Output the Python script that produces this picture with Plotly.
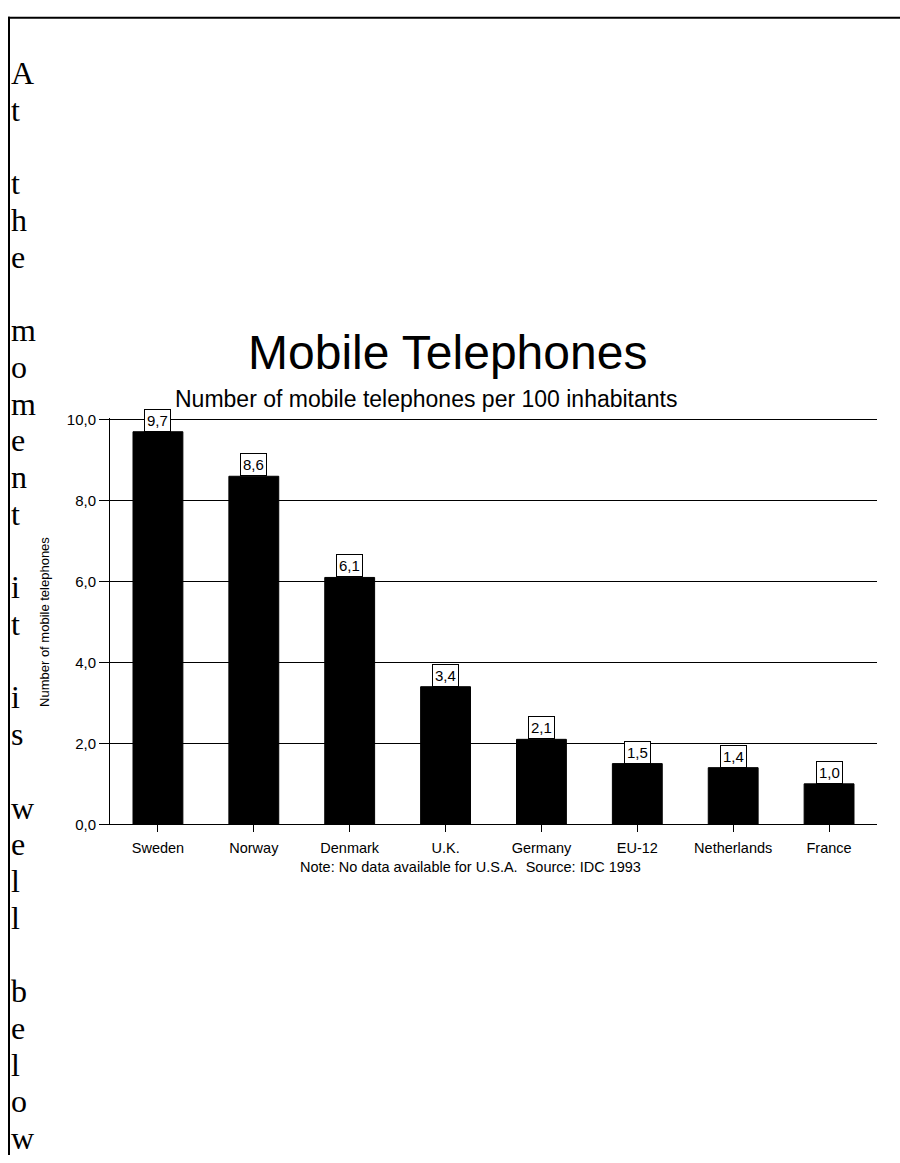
import plotly.graph_objects as go

# ---- data ----
countries = ["Sweden", "Norway", "Denmark", "U.K.", "Germany", "EU-12", "Netherlands", "France"]
phones_per_100 = [9.7, 8.6, 6.1, 3.4, 2.1, 1.5, 1.4, 1.0]
y_tick_values = [0, 2, 4, 6, 8, 10]

chart_title = "Mobile Telephones"
chart_subtitle = "Number of mobile telephones per 100 inhabitants"
y_axis_title = "Number of mobile telephones"
note_text = "Note: No data available for U.S.A.&nbsp;&nbsp;Source: IDC 1993"
side_text = "At the moment it is well below"

# ---- page geometry ----
W, H = 900, 1163
SANS = "Liberation Sans, Arial, sans-serif"
SERIF = "Liberation Serif, Times New Roman, serif"


def px_x(px):
    return px / W


def px_y(px):
    return (H - px) / H


fig = go.Figure(
    go.Bar(
        x=countries,
        y=phones_per_100,
        width=0.52,
        marker=dict(color="black", line=dict(color="black", width=1)),
        hoverinfo="skip",
    )
)

annotations = []

# value boxes above bars
for c, v in zip(countries, phones_per_100):
    annotations.append(
        dict(
            x=c, y=v, xref="x", yref="y",
            text=f"{v:.1f}".replace(".", ","),
            showarrow=False, yanchor="bottom", xanchor="center",
            bgcolor="white", bordercolor="black", borderwidth=1, borderpad=2,
            font=dict(family=SANS, size=15, color="black"),
        )
    )

# titles and notes
annotations.append(dict(x=px_x(447), y=px_y(350), xref="paper", yref="paper",
                        text=chart_title, showarrow=False, xanchor="center", yanchor="middle",
                        font=dict(family=SANS, size=48, color="black")))
annotations.append(dict(x=px_x(426), y=px_y(397), xref="paper", yref="paper",
                        text=chart_subtitle, showarrow=False, xanchor="center", yanchor="middle",
                        font=dict(family=SANS, size=23, color="black")))
annotations.append(dict(x=px_x(45), y=px_y(623), xref="paper", yref="paper",
                        text=y_axis_title, showarrow=False, textangle=-90,
                        xanchor="center", yanchor="middle",
                        font=dict(family=SANS, size=13, color="black")))
annotations.append(dict(x=px_x(470), y=px_y(871), xref="paper", yref="paper",
                        text=note_text, showarrow=False, xanchor="center", yanchor="middle",
                        borderpad=0,
                        font=dict(family=SANS, size=14.5, color="black")))

# side text, one character per line
line_pitch = 37.2
first_center = 67
for i, ch in enumerate(side_text):
    if ch == " ":
        continue
    annotations.append(dict(x=px_x(9), y=px_y(first_center + i * line_pitch),
                            xref="paper", yref="paper", text=ch, showarrow=False,
                            xanchor="left", yanchor="middle",
                            font=dict(family=SERIF, size=32, color="black")))

shapes = [
    # page frame (top and left)
    dict(type="line", xref="paper", yref="paper", x0=px_x(8), x1=1.0,
         y0=px_y(11), y1=px_y(11), line=dict(color="black", width=2)),
    dict(type="line", xref="paper", yref="paper", x0=px_x(9), x1=px_x(9),
         y0=px_y(10), y1=0.0, line=dict(color="black", width=2)),
]

# a little headroom above the top tick so its gridline is drawn,
# with the domain stretched so that 10 still sits at the same height
y_max = 10.05
plot_bottom_px = 828
top_tick_px = 418
plot_top_px = plot_bottom_px - (plot_bottom_px - top_tick_px) * y_max / max(y_tick_values)

fig.update_layout(
    width=W, height=H,
    margin=dict(l=0, r=0, t=0, b=0, pad=0),
    paper_bgcolor="white", plot_bgcolor="white",
    separators=",.",
    showlegend=False,
    annotations=annotations,
    shapes=shapes,
    xaxis=dict(
        domain=[px_x(110), px_x(877)],
        range=[-0.5, len(countries) - 0.5],
        showline=True, linecolor="black", linewidth=1,
        ticks="outside", ticklen=7, tickcolor="black", tickwidth=1,
        ticklabelstandoff=3,
        showgrid=False, zeroline=False,
        tickfont=dict(family=SANS, size=14.5, color="black"),
    ),
    yaxis=dict(
        domain=[px_y(plot_bottom_px), px_y(plot_top_px)],
        range=[0, y_max],
        tickvals=y_tick_values, tickformat=".1f",
        showline=True, linecolor="black", linewidth=1,
        ticks="outside", ticklen=10, tickcolor="black", tickwidth=1,
        showgrid=True, gridcolor="black", gridwidth=1, zeroline=False,
        tickfont=dict(family=SANS, size=15, color="black"),
    ),
)

fig.write_html("out.html")
